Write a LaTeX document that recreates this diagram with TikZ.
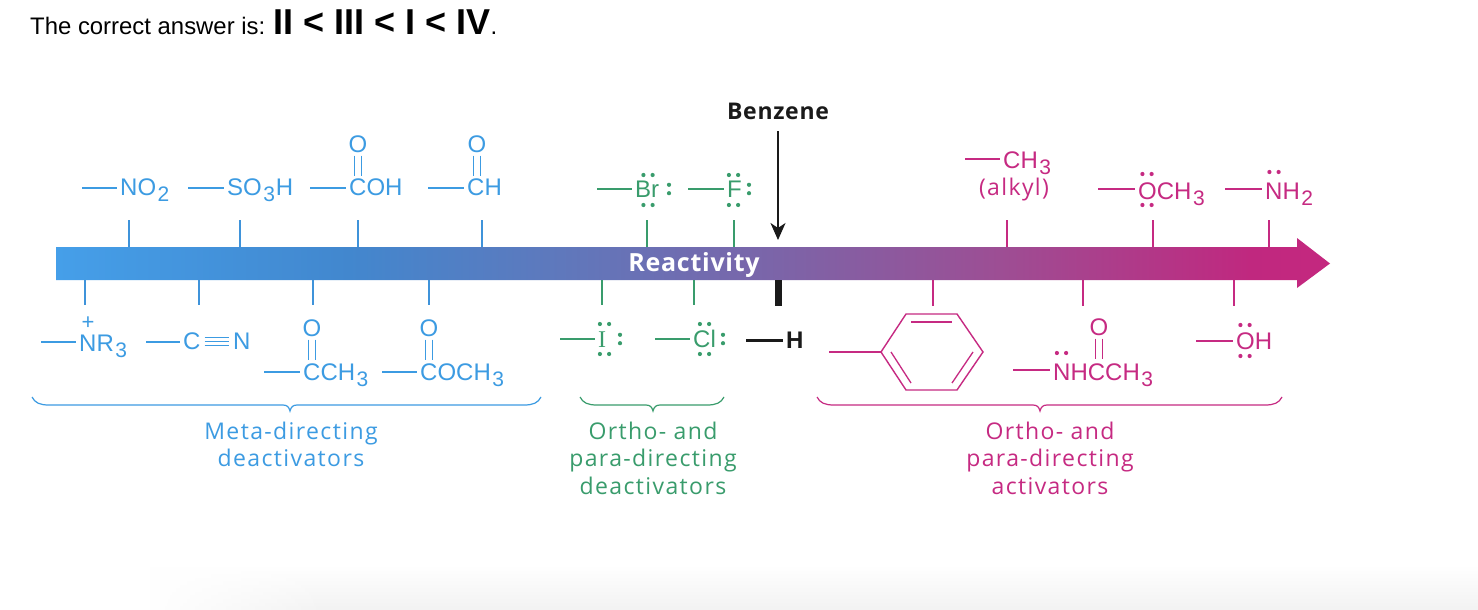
\documentclass[tikz,border=0pt]{standalone}
\usepackage{fontspec}
\usetikzlibrary{arrows.meta,fadings}
\setmainfont{Liberation Sans}
\newfontfamily\labfont[LetterSpace=6]{Open Sans}
\newfontfamily\boldlab[LetterSpace=3]{Open Sans Bold}
\newfontfamily\serifI{Liberation Serif}
\definecolor{cblue}{HTML}{3C9BE2}
\definecolor{ctickb}{HTML}{3F93DA}
\definecolor{cgreen}{HTML}{399C6C}
\definecolor{cmag}{HTML}{C62A82}
\definecolor{cink}{HTML}{1A1A1A}
\definecolor{c0}{HTML}{459FE9}
\definecolor{c1}{HTML}{4287CE}
\definecolor{c2}{HTML}{5F78BC}
\definecolor{c3}{HTML}{7F62A6}
\definecolor{c4}{HTML}{9D4E94}
\definecolor{c5}{HTML}{C0287F}
\definecolor{c6}{HTML}{C4287F}
\pgfdeclarehorizontalshading{barshade}{100bp}{
 color(0bp)=(c0);color(25bp)=(c0);color(36.5bp)=(c1);color(44.8bp)=(c2);color(54.2bp)=(c3);color(62bp)=(c4);color(71.9bp)=(c5);color(75bp)=(c6);color(100bp)=(c6)}
\newcommand\sbs[1]{\kern1.5pt\raisebox{-6pt}{\fontsize{21}{21}\selectfont #1}\kern0.8pt}
\tikzset{
 chem/.style={anchor=base west,inner sep=0pt,inner xsep=3pt,font=\fontsize{24}{24}\selectfont},
 oxy/.style={inner sep=0pt,font=\fontsize{24}{24}\selectfont},
 bondline/.style={line width=1.3pt},
 tickline/.style={line width=1.4pt},
 brace/.style={line width=1.2pt},
 grouplabel/.style={align=center,anchor=base,inner sep=0pt,font=\labfont\fontsize{23}{27.5}\selectfont},
}
\newcommand\bondto[3]{\coordinate (#1s) at (#2,#3); \draw[bondline] (#1s) -- (#1s -| #1.west);}
\newcommand\dbl[1]{\draw[bondline] ([xshift=-3.2pt,yshift=-3pt]#1.south) -- ([xshift=-3.2pt,yshift=-23pt]#1.south);
 \draw[bondline] ([xshift=3.2pt,yshift=-3pt]#1.south) -- ([xshift=3.2pt,yshift=-23pt]#1.south);}
\newcommand\lph[2]{\fill ({#1-4.6},#2) circle (2.1pt); \fill ({#1+4.6},#2) circle (2.1pt);}
\newcommand\lpv[2]{\fill (#1,{#2-4.2}) circle (2.1pt); \fill (#1,{#2+4.2}) circle (2.1pt);}
\newcommand\bracepath[3]{\draw[brace] (#1,397) .. controls ({#1+3},403) and ({#1+8},405) .. ({#1+17},405) -- ({#3-7},405) .. controls ({#3-3},405) and ({#3-1},407) .. (#3,411) .. controls ({#3+1},407) and ({#3+3},405) .. ({#3+7},405) -- ({#2-17},405) .. controls ({#2-8},405) and ({#2-3},403) .. (#2,397);}
\newcommand\tick[4]{\coordinate (#1a) at (#2,#3); \coordinate (#1b) at (#2,#4); \draw[tickline] (#1a) -- (#1b);}
\begin{document}
\begin{tikzpicture}[x=1pt,y=-1pt]
\useasboundingbox (0,0) rectangle (1478,610);
\fill[white] (0,0) rectangle (1478,610);
\shade[bottom color=black!5,top color=white,path fading=west] (150,565) rectangle (330,610);
\shade[bottom color=black!5,top color=white] (330,565) rectangle (1478,610);
% title
\node[anchor=base west,inner sep=0pt,font=\fontsize{23.9}{24}\selectfont,text=black] (title) at (30,35)
 {The correct answer is:\kern1.5pt\ {\fontsize{36}{36}\selectfont\bfseries II < III < I < IV}.};
% bar
\shade[shading=barshade] (56,247) -- (1297,247) -- (1297,238) -- (1330,263.5) -- (1297,288) -- (1297,280) -- (56,280) -- cycle;
\node[anchor=base,inner sep=0pt,text=white,font=\boldlab\fontsize{25}{25}\selectfont] (react) at (694,271) {Reactivity};
% blue
\begin{scope}[color=ctickb]
 \tick{tb1}{129}{220}{247} \tick{tb2}{240}{220}{247} \tick{tb3}{358}{220}{247} \tick{tb4}{482}{220}{247}
 \tick{bb1}{85}{280}{305} \tick{bb2}{199}{280}{305} \tick{bb3}{313}{280}{305} \tick{bb4}{429}{280}{305}
\end{scope}
\begin{scope}[color=cblue,every node/.append style={text=cblue}]
 \node[chem] (no) at (117,195) {NO\sbs{2}}; \bondto{no}{82}{188}
 \node[chem] (so) at (224,195) {SO\sbs{3}H}; \bondto{so}{188}{188}
 \node[chem] (coh) at (346,195) {COH}; \bondto{coh}{310}{188}
 \node[oxy] (o1) at (358,144) {O}; \dbl{o1}
 \node[chem] (ch) at (464,195) {CH}; \bondto{ch}{428}{188}
 \node[oxy] (o2) at (477,144) {O}; \dbl{o2}
 \node[chem] (nr) at (76,351) {NR\sbs{3}}; \bondto{nr}{41}{342}
 \node[inner sep=0pt,font=\fontsize{22}{22}\selectfont] (plus) at (88,323) {+};
 \node[chem] (cc) at (180,349.5) {C}; \bondto{cc}{146}{342}
 \node[chem,inner xsep=1pt] (nn) at (232,349.5) {N};
 \draw[bondline,shorten >=3pt,shorten <=1pt] (cc.east |- cc.center) -- (nn.west |- cc.center);
 \draw[bondline,shorten >=3pt,shorten <=1pt] ([yshift=4pt]cc.east |- cc.center) -- ([yshift=4pt]nn.west |- cc.center);
 \draw[bondline,shorten >=3pt,shorten <=1pt] ([yshift=-4pt]cc.east |- cc.center) -- ([yshift=-4pt]nn.west |- cc.center);
 \node[chem] (cch) at (300,380) {CCH\sbs{3}}; \bondto{cch}{264}{372}
 \node[oxy] (o3) at (312,328) {O}; \dbl{o3}
 \node[chem] (coc) at (417,380) {COCH\sbs{3}}; \bondto{coc}{382}{372}
 \node[oxy] (o4) at (429,328) {O}; \dbl{o4}
 \bracepath{32}{541}{290}
 \node[grouplabel] (meta) at (291,466.5) {Meta-directing\\deactivators};
\end{scope}
% green
\begin{scope}[color=cgreen,every node/.append style={text=cgreen}]
 \tick{tg1}{647}{220}{247} \tick{tg2}{734}{220}{247} \tick{bg1}{602}{280}{305} \tick{bg2}{694}{280}{305}
 \node[chem] (br) at (632,197) {Br}; \bondto{br}{597}{189}
 \lph{648}{175} \lph{648}{205} \lpv{669}{189}
 \node[chem] (ff) at (724,197) {F}; \bondto{ff}{688}{189}
 \lph{733.5}{175} \lph{733.5}{205} \lpv{749}{189}
 \node[chem] (ii) at (595,347.5) {\serifI I}; \bondto{ii}{560}{339}
 \lph{604.5}{324} \lph{604.5}{354} \lpv{620}{339}
 \node[chem] (cl) at (690,347.5) {Cl}; \bondto{cl}{655}{339}
 \lph{704.5}{324} \lph{704.5}{354} \lpv{723}{339}
 \bracepath{580}{724}{653}
 \node[grouplabel] (og) at (653,494) {Ortho- and\\para-directing\\deactivators};
\end{scope}
% magenta
\begin{scope}[color=cmag,every node/.append style={text=cmag}]
 \tick{tm1}{1007}{220}{247} \tick{tm2}{1153}{220}{247} \tick{tm3}{1269}{220}{247}
 \tick{bm1}{933}{280}{306} \tick{bm2}{1083}{280}{306} \tick{bm3}{1234}{280}{306}
 \node[chem] (me) at (1000,168) {CH\sbs{3}}; \bondto{me}{965}{159}
 \node[anchor=base,inner sep=0pt,font=\labfont\fontsize{23}{23}\selectfont] (alk) at (1014,195) {(alkyl)};
 \node[chem] (och) at (1135,199) {OCH\sbs{3}}; \bondto{och}{1098}{189}
 \lph{1147}{174} \lph{1147}{205}
 \node[chem] (nh) at (1262,199) {NH\sbs{2}}; \bondto{nh}{1225}{189}
 \lph{1274}{172}
 % phenyl
 \coordinate (r1) at (881,352); \coordinate (r2) at (906,314); \coordinate (r3) at (957,314);
 \coordinate (r4) at (983,352); \coordinate (r5) at (957,390); \coordinate (r6) at (906,390);
 \coordinate (rs) at (829,352);
 \draw[line width=1.4pt,line join=miter] (r1) -- (r2) -- (r3) -- (r4) -- (r5) -- (r6) -- cycle;
 \draw[bondline] (rs) -- (r1);
 \draw[bondline] (911,322) -- (952,322);
 \draw[bondline] (891,352) -- (911,383);
 \draw[bondline] (973,352) -- (952,383);
 \node[chem] (nhc) at (1050,380) {NHCCH\sbs{3}}; \bondto{nhc}{1013}{370}
 \lph{1061.5}{353}
 \node[oxy] (o5) at (1099,327) {O}; \dbl{o5}
 \node[chem] (oh) at (1233,349) {OH}; \bondto{oh}{1196}{341}
 \lph{1245}{325} \lph{1245}{356}
 \bracepath{817}{1282}{1040}
 \node[grouplabel] (oa) at (1050,494) {Ortho- and\\para-directing\\activators};
\end{scope}
% black
\node[anchor=base,inner sep=0pt,text=cink,font=\boldlab\fontsize{23}{23}\selectfont] (benz) at (778,119) {Benzene};
\coordinate (arrtop) at (778,131); \coordinate (arrtip) at (778,240);
\draw[line width=2.2pt,cink,-{Stealth[length=17pt,width=15pt,inset=5pt]}] (arrtop) -- (arrtip);
\coordinate (hb1) at (778,280); \coordinate (hb2) at (778,306);
\draw[line width=7pt,cink] (hb1) -- (hb2);
\node[chem,font=\fontsize{24}{24}\selectfont\bfseries,text=cink] (hh) at (783,348) {H};
\coordinate (hs) at (746,340);
\draw[line width=3pt,cink] (hs) -- (hs -| hh.west);
\end{tikzpicture}
\end{document}
